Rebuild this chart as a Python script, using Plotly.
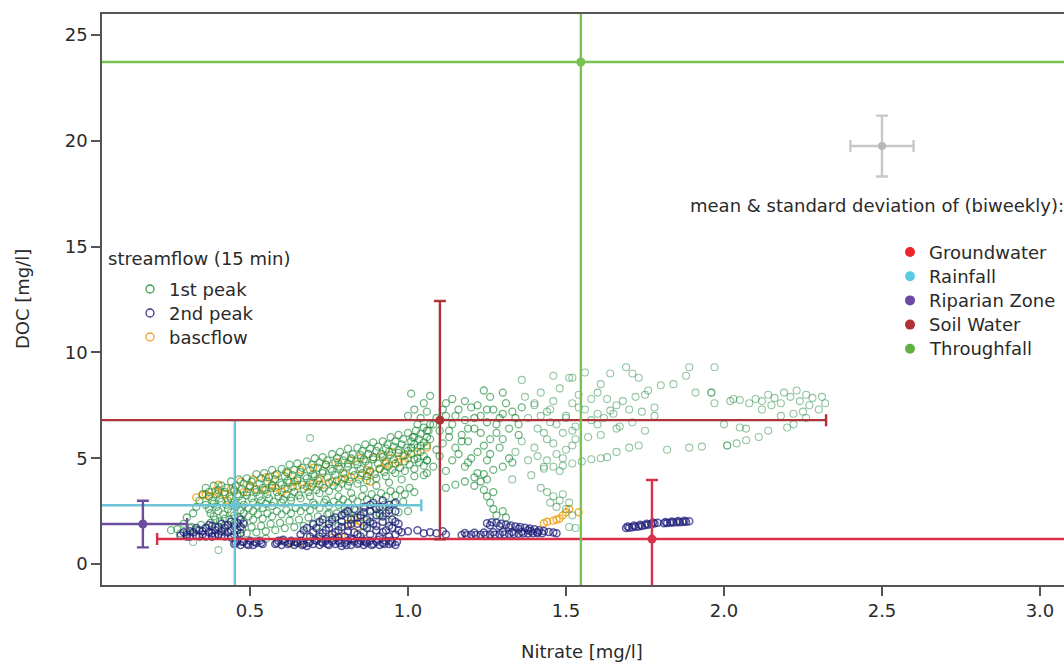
import plotly.graph_objects as go

# ---------------------------------------------------------------------------
# Streamflow samples (15 min): nitrate [mg/l], DOC [mg/l]
# ---------------------------------------------------------------------------
peak1_upper = [
    (0.36, 3.6), (0.385, 3.7), (0.41, 3.7), (0.44, 3.9), (0.465, 4.0), (0.49, 4.05), (0.52, 4.25),
    (0.545, 4.3), (0.57, 4.45), (0.60, 4.5), (0.625, 4.7), (0.65, 4.75), (0.68, 4.85), (0.705, 5.0),
    (0.73, 5.05), (0.76, 5.2), (0.785, 5.3), (0.81, 5.45), (0.84, 5.5), (0.865, 5.65), (0.89, 5.75),
    (0.92, 5.8), (0.945, 6.0), (0.97, 6.1), (1.00, 6.2), (1.025, 6.3), (1.05, 6.45), (1.07, 6.6),
    (0.37, 3.2), (0.395, 3.3), (0.42, 3.4), (0.45, 3.5), (0.475, 3.55), (0.50, 3.7), (0.53, 3.8),
    (0.555, 3.9), (0.58, 4.0), (0.61, 4.15), (0.635, 4.2), (0.66, 4.35), (0.69, 4.45), (0.715, 4.55),
    (0.74, 4.7), (0.77, 4.8), (0.795, 4.9), (0.82, 5.0), (0.85, 5.15), (0.875, 5.2), (0.90, 5.35),
    (0.93, 5.45), (0.955, 5.55), (0.98, 5.65), (1.01, 5.8), (1.035, 5.9), (1.06, 6.0),
    (0.36, 2.8), (0.385, 2.85), (0.41, 2.95), (0.44, 3.1), (0.465, 3.2), (0.49, 3.25), (0.52, 3.4),
    (0.545, 3.5), (0.57, 3.6), (0.60, 3.75), (0.625, 3.85), (0.65, 3.95), (0.68, 4.05), (0.705, 4.15),
    (0.73, 4.3), (0.76, 4.4), (0.785, 4.5), (0.81, 4.6), (0.84, 4.7), (0.865, 4.85), (0.89, 4.95),
    (0.92, 5.05), (0.945, 5.15), (0.97, 5.25), (1.00, 5.35), (1.03, 5.5), (1.06, 5.6),
    (0.375, 2.4), (0.40, 2.5), (0.43, 2.6), (0.455, 2.7), (0.48, 2.8), (0.51, 2.9), (0.535, 3.0),
    (0.56, 3.1), (0.59, 3.2), (0.615, 3.3), (0.64, 3.4), (0.67, 3.55), (0.695, 3.65), (0.72, 3.75),
    (0.75, 3.85), (0.775, 3.95), (0.80, 4.05), (0.83, 4.2), (0.855, 4.3), (0.88, 4.4), (0.91, 4.5),
    (0.935, 4.6), (0.96, 4.75), (0.99, 4.85), (1.02, 4.95), (1.05, 5.1),
    (0.39, 2.1), (0.42, 2.15), (0.45, 2.3), (0.48, 2.4), (0.51, 2.5), (0.54, 2.65), (0.57, 2.75),
    (0.60, 2.9), (0.63, 3.0), (0.66, 3.1), (0.69, 3.2), (0.72, 3.35), (0.75, 3.45), (0.78, 3.6),
    (0.81, 3.7), (0.84, 3.8), (0.87, 3.95), (0.90, 4.05), (0.93, 4.15), (0.96, 4.3), (0.99, 4.4),
    (1.02, 4.5), (1.05, 4.65),
    (0.70, 2.9), (0.74, 3.05), (0.78, 3.2), (0.82, 3.35), (0.86, 3.55), (0.90, 3.7), (0.94, 3.85),
    (0.98, 4.0), (1.02, 4.15), (1.06, 4.3),
    (0.37, 3.4), (0.40, 3.5), (0.425, 3.6), (0.455, 3.7), (0.48, 3.8), (0.505, 3.9), (0.535, 4.05),
    (0.56, 4.1), (0.585, 4.25), (0.615, 4.35), (0.64, 4.45), (0.665, 4.55), (0.695, 4.7), (0.72, 4.8),
    (0.745, 4.9), (0.775, 5.0), (0.80, 5.1), (0.825, 5.2), (0.855, 5.35), (0.88, 5.45), (0.905, 5.55),
    (0.935, 5.65), (0.96, 5.8), (0.985, 5.9), (1.015, 6.0), (1.04, 6.15), (1.065, 6.3),
    (0.38, 3.0), (0.405, 3.1), (0.435, 3.2), (0.46, 3.3), (0.49, 3.4), (0.515, 3.5), (0.54, 3.6),
    (0.57, 3.7), (0.595, 3.85), (0.62, 3.95), (0.65, 4.05), (0.675, 4.15), (0.70, 4.25), (0.73, 4.4),
    (0.755, 4.5), (0.78, 4.6), (0.81, 4.75), (0.835, 4.85), (0.86, 4.95), (0.89, 5.05), (0.915, 5.2),
    (0.94, 5.3), (0.97, 5.4), (0.995, 5.5), (1.02, 5.65), (1.05, 5.75),
    (0.37, 2.6), (0.395, 2.7), (0.425, 2.8), (0.45, 2.9), (0.475, 3.0), (0.505, 3.1), (0.53, 3.2),
    (0.555, 3.3), (0.585, 3.4), (0.61, 3.55), (0.635, 3.65), (0.665, 3.75), (0.69, 3.85), (0.715, 3.95),
    (0.745, 4.1), (0.77, 4.2), (0.795, 4.3), (0.825, 4.4), (0.85, 4.5), (0.875, 4.65), (0.905, 4.75),
    (0.93, 4.85), (0.955, 4.95), (0.985, 5.1), (1.01, 5.2), (1.04, 5.3),
    (0.385, 2.25), (0.415, 2.35), (0.44, 2.45), (0.47, 2.55), (0.495, 2.65), (0.525, 2.75),
    (0.55, 2.85), (0.575, 2.95), (0.605, 3.05), (0.63, 3.15), (0.655, 3.25), (0.685, 3.4),
    (0.71, 3.5), (0.735, 3.6), (0.765, 3.7), (0.79, 3.8), (0.815, 3.9), (0.845, 4.0), (0.87, 4.15),
    (0.895, 4.25), (0.925, 4.35), (0.95, 4.45), (0.975, 4.55), (1.005, 4.7), (1.035, 4.8), (1.06, 4.9),
]

peak1_lower = [
    (0.30, 1.5), (0.33, 1.6), (0.36, 1.7), (0.39, 1.75), (0.42, 1.85), (0.45, 1.95), (0.48, 2.0),
    (0.51, 2.1), (0.54, 2.15), (0.57, 2.25), (0.60, 2.35), (0.63, 2.4), (0.66, 2.5), (0.69, 2.55),
    (0.72, 2.65), (0.75, 2.75), (0.78, 2.8), (0.81, 2.9), (0.84, 2.95), (0.87, 3.05), (0.90, 3.1),
    (0.93, 3.2), (0.96, 3.25), (0.99, 3.3), (1.02, 3.4),
    (0.46, 1.35), (0.49, 1.45), (0.52, 1.5), (0.55, 1.55), (0.58, 1.6), (0.61, 1.7), (0.64, 1.75),
    (0.67, 1.8), (0.70, 1.85), (0.73, 1.95), (0.76, 2.0), (0.79, 2.05), (0.82, 2.15), (0.85, 2.2),
    (0.88, 2.25), (0.91, 2.3), (0.94, 2.4), (0.97, 2.45), (1.00, 2.5),
    (0.315, 1.75), (0.345, 1.85), (0.375, 1.95), (0.405, 2.0), (0.435, 2.1), (0.465, 2.2),
    (0.495, 2.25), (0.525, 2.35), (0.555, 2.4), (0.585, 2.5), (0.615, 2.55), (0.645, 2.65),
    (0.675, 2.7), (0.705, 2.8), (0.735, 2.9), (0.765, 2.95), (0.795, 3.05), (0.825, 3.1),
    (0.855, 3.2), (0.885, 3.3), (0.915, 3.35), (0.945, 3.45), (0.975, 3.5), (1.005, 3.6),
    (0.475, 1.65), (0.505, 1.75), (0.535, 1.8), (0.565, 1.9), (0.595, 1.95), (0.625, 2.05),
    (0.655, 2.1), (0.685, 2.2), (0.715, 2.25), (0.745, 2.35), (0.775, 2.4), (0.805, 2.5),
    (0.835, 2.55), (0.865, 2.65), (0.895, 2.7), (0.925, 2.8), (0.955, 2.85), (0.985, 2.95),
    (0.25, 1.6), (0.27, 1.65), (0.29, 1.9), (0.30, 2.2), (0.32, 2.4), (0.33, 2.7), (0.34, 3.0),
    (0.35, 3.3), (0.28, 1.45), (0.31, 1.7),
    (0.60, 1.1), (0.64, 1.05), (0.72, 1.5), (0.78, 1.8), (0.83, 2.2), (0.87, 1.9), (0.91, 2.4),
    (0.94, 2.0), (0.86, 1.5), (0.55, 1.2), (0.42, 1.5), (0.38, 1.3), (0.68, 1.3), (0.75, 2.4),
    (0.80, 2.6),
]

peak1_middle = [
    (1.00, 7.0), (1.02, 7.3), (1.04, 6.9), (1.06, 7.2), (1.08, 6.6), (1.03, 6.6), (1.07, 5.9),
    (1.10, 6.3), (1.12, 7.0), (1.14, 6.6), (1.16, 7.3), (1.18, 6.8), (1.11, 5.7), (1.13, 6.0),
    (1.15, 5.5), (1.17, 6.1), (1.19, 5.8), (1.21, 6.4), (1.23, 7.0), (1.25, 6.7), (1.22, 7.5),
    (1.27, 7.3), (1.29, 6.9), (1.31, 7.6), (1.33, 7.2), (1.35, 6.6), (1.28, 6.2), (1.30, 5.9),
    (1.24, 5.6), (1.26, 5.2), (1.20, 5.0), (1.18, 4.6), (1.14, 4.9), (1.10, 5.1), (1.08, 4.6),
    (1.05, 4.2), (1.03, 5.0), (1.01, 5.5), (1.01, 8.05), (1.07, 7.95), (1.12, 7.6), (1.20, 7.4),
    (1.02, 6.0), (1.04, 5.6), (1.06, 6.3), (1.09, 6.9), (1.11, 7.3), (1.13, 6.3), (1.15, 7.0),
    (1.17, 5.8), (1.19, 6.4), (1.21, 6.9), (1.23, 6.2), (1.25, 7.3), (1.26, 5.9), (1.28, 6.6),
    (1.30, 7.1), (1.32, 6.4), (1.34, 6.9), (1.36, 7.4), (1.09, 5.4), (1.12, 4.4), (1.16, 5.2),
    (1.19, 4.8), (1.22, 5.3), (1.25, 4.9), (1.29, 5.5), (1.32, 5.0), (1.35, 6.1), (1.06, 4.9),
    (1.14, 7.8), (1.18, 7.7), (1.26, 7.9), (1.30, 8.1), (1.24, 8.2), (1.05, 7.6),
    (1.12, 3.6), (1.15, 3.75), (1.18, 3.9), (1.21, 4.1), (1.24, 4.25), (1.27, 4.45), (1.30, 4.6),
    (1.33, 4.8),
    (1.22, 4.3), (1.23, 3.9), (1.24, 3.5), (1.25, 3.2), (1.26, 2.9), (1.27, 2.6), (1.28, 2.3),
    (1.30, 2.5), (1.31, 2.2), (1.21, 3.7), (1.25, 4.0), (1.27, 3.4),
]

peak1_sparse = [
    (1.37, 7.9), (1.40, 7.5), (1.42, 8.1), (1.44, 7.2), (1.46, 7.7), (1.48, 8.3), (1.50, 7.0),
    (1.52, 7.6), (1.54, 8.0), (1.56, 7.3), (1.58, 7.8), (1.36, 8.7), (1.46, 8.9), (1.51, 8.8),
    (1.56, 9.05), (1.38, 6.9), (1.41, 6.4), (1.45, 6.7), (1.49, 6.2), (1.53, 6.5), (1.57, 6.0),
    (1.60, 6.6), (1.36, 5.8), (1.40, 5.5), (1.44, 5.9), (1.47, 5.2), (1.52, 5.6), (1.34, 5.3),
    (1.38, 4.9), (1.43, 4.6), (1.48, 4.4), (1.39, 4.2), (1.33, 4.0),
    (1.40, 7.6), (1.42, 7.0), (1.45, 7.3), (1.47, 6.6), (1.50, 6.9), (1.52, 6.3), (1.54, 7.4),
    (1.43, 6.2), (1.46, 5.7), (1.50, 5.4), (1.53, 5.9), (1.41, 5.1), (1.44, 4.9), (1.49, 5.0),
    (1.44, 3.4), (1.46, 3.2), (1.48, 3.0), (1.49, 3.3), (1.45, 2.9), (1.47, 2.7), (1.50, 2.6),
    (1.42, 3.6), (1.51, 2.9), (1.52, 2.3), (1.51, 1.75), (1.53, 1.7),
    (1.43, 4.5), (1.46, 4.6), (1.49, 4.65), (1.52, 4.75), (1.55, 4.85), (1.58, 4.95), (1.61, 5.0),
    (1.63, 5.05), (1.66, 5.3), (1.70, 5.5), (1.73, 5.6), (1.82, 5.4), (1.89, 5.5), (1.93, 5.55),
    (2.01, 5.6), (2.04, 5.7), (2.07, 5.85), (2.11, 6.0), (2.14, 6.3), (2.20, 6.45), (2.22, 6.6),
    (2.26, 6.9),
    (1.52, 8.8), (1.64, 9.0), (1.69, 9.3), (1.71, 9.0), (1.73, 8.8), (1.76, 8.2), (1.80, 8.45),
    (1.84, 8.5), (1.88, 8.9), (1.89, 9.3), (1.91, 8.1), (1.96, 8.1), (1.97, 9.3), (1.97, 7.6),
    (1.60, 8.1), (1.61, 8.5), (1.63, 7.8), (1.66, 7.5), (1.68, 7.7), (1.70, 7.3), (1.72, 7.9),
    (1.74, 7.2), (1.78, 7.4), (1.75, 8.0), (1.65, 7.1), (1.62, 6.9), (1.58, 6.8), (1.67, 6.5),
    (1.71, 6.7), (1.60, 7.1), (1.64, 7.25), (1.66, 6.4), (1.75, 6.3), (1.61, 6.1), (1.78, 7.0),
    (2.02, 7.7), (2.05, 7.75), (2.08, 7.6), (2.10, 7.8), (2.12, 7.7), (2.14, 8.0), (2.16, 7.85),
    (2.18, 7.6), (2.19, 8.1), (2.21, 7.9), (2.23, 8.2), (2.24, 7.7), (2.26, 8.0), (2.27, 7.5),
    (2.28, 7.85), (2.30, 7.3), (2.32, 7.6), (2.22, 7.1), (2.25, 7.2), (2.15, 7.5), (2.12, 7.3),
    (2.00, 6.6), (2.07, 6.4), (2.18, 7.0), (2.31, 7.9), (1.96, 8.1), (2.03, 7.8), (2.05, 6.45),
    (2.01, 5.6), (0.32, 1.04), (0.40, 0.66), (0.69, 5.95),
]

peak2_low = [
    (0.45, 0.95), (0.46, 1.1), (0.47, 0.9), (0.48, 1.05), (0.49, 0.95), (0.50, 1.1), (0.51, 0.9),
    (0.52, 1.0), (0.53, 1.1), (0.54, 0.95),
    (0.58, 0.95), (0.59, 1.1), (0.60, 0.9), (0.61, 1.05), (0.62, 0.95), (0.63, 1.1), (0.64, 0.9),
    (0.65, 1.0), (0.66, 1.1), (0.67, 0.95), (0.68, 0.85), (0.69, 1.05), (0.70, 0.95), (0.71, 1.1),
    (0.72, 0.9), (0.73, 1.0), (0.74, 1.1), (0.75, 0.9), (0.76, 1.05), (0.77, 0.95), (0.78, 1.1),
    (0.79, 0.85), (0.80, 1.0), (0.81, 1.1), (0.82, 0.9), (0.83, 1.05), (0.84, 0.95), (0.85, 1.1),
    (0.86, 0.9), (0.87, 1.0), (0.88, 1.1), (0.89, 0.95), (0.90, 1.05), (0.91, 0.9), (0.92, 1.0),
    (0.93, 1.1), (0.94, 0.95), (0.95, 1.0), (0.96, 0.9),
    (0.455, 1.0), (0.475, 1.05), (0.495, 0.9), (0.515, 1.05), (0.535, 1.0), (0.585, 1.0),
    (0.605, 1.15), (0.625, 1.0), (0.645, 1.05), (0.665, 0.9), (0.685, 1.0), (0.705, 1.15),
    (0.725, 1.05), (0.745, 0.95), (0.765, 1.15), (0.785, 1.0), (0.805, 0.9), (0.825, 1.15),
    (0.845, 1.0), (0.865, 1.05), (0.885, 0.9), (0.905, 1.15), (0.925, 0.95), (0.945, 1.1),
    (0.965, 1.05),
    (0.28, 1.35), (0.30, 1.4), (0.31, 1.3), (0.32, 1.5), (0.33, 1.35), (0.34, 1.6), (0.35, 1.4),
    (0.36, 1.7), (0.37, 1.5), (0.38, 1.8), (0.39, 1.6), (0.40, 1.4), (0.41, 1.9), (0.42, 1.7),
    (0.43, 1.5), (0.44, 2.0), (0.45, 1.8), (0.46, 1.6), (0.47, 2.1), (0.48, 1.9), (0.36, 1.3),
    (0.39, 1.35), (0.42, 1.3), (0.45, 1.4), (0.44, 1.25), (0.47, 1.45),
    (0.29, 1.5), (0.31, 1.55), (0.33, 1.7), (0.35, 1.55), (0.37, 1.85), (0.38, 1.45), (0.40, 1.75),
    (0.41, 1.55), (0.43, 1.85), (0.44, 1.6), (0.46, 1.95), (0.47, 1.75), (0.30, 1.3), (0.34, 1.3),
    (0.38, 1.3), (0.41, 1.35),
]

peak2_mid = [
    (0.66, 1.4), (0.68, 1.7), (0.70, 1.5), (0.70, 1.9), (0.72, 1.3), (0.73, 2.1), (0.74, 1.6),
    (0.75, 1.9), (0.76, 1.4), (0.77, 2.2), (0.78, 1.6), (0.79, 2.0), (0.80, 1.3), (0.80, 2.4),
    (0.81, 1.8), (0.82, 2.1), (0.83, 1.5), (0.83, 2.6), (0.84, 1.9), (0.85, 2.3), (0.85, 1.3),
    (0.86, 2.7), (0.87, 1.7), (0.87, 2.1), (0.88, 2.5), (0.88, 1.4), (0.89, 2.9), (0.89, 1.9),
    (0.90, 2.3), (0.90, 1.6), (0.91, 2.7), (0.91, 1.3), (0.92, 2.0), (0.92, 3.0), (0.93, 1.6),
    (0.93, 2.4), (0.94, 2.8), (0.94, 1.3), (0.95, 2.1), (0.95, 1.7), (0.96, 2.5), (0.96, 1.4),
    (0.97, 1.9), (0.82, 1.2), (0.86, 1.1), (0.78, 1.25), (0.74, 1.2),
    (0.67, 1.6), (0.69, 1.3), (0.71, 1.7), (0.72, 2.0), (0.73, 1.45), (0.75, 1.7), (0.76, 2.1),
    (0.77, 1.5), (0.79, 1.75), (0.79, 2.3), (0.81, 1.55), (0.81, 2.5), (0.82, 1.9), (0.84, 2.2),
    (0.84, 1.4), (0.86, 1.8), (0.86, 2.45), (0.88, 2.0), (0.88, 2.8), (0.90, 1.8), (0.90, 2.6),
    (0.92, 1.5), (0.92, 2.25), (0.94, 1.8), (0.94, 2.55), (0.96, 2.0), (0.96, 2.9), (0.97, 1.6),
    (0.98, 1.5), (1.00, 1.55), (1.03, 1.6), (1.05, 1.45), (1.07, 1.5), (1.09, 1.45), (1.11, 1.55),
    (1.12, 1.4),
]

peak2_tail = [
    (1.17, 1.37), (1.185, 1.36), (1.20, 1.38), (1.215, 1.37), (1.23, 1.39), (1.245, 1.38),
    (1.26, 1.40), (1.275, 1.39), (1.29, 1.41), (1.305, 1.40), (1.32, 1.42), (1.335, 1.42),
    (1.35, 1.43), (1.365, 1.44), (1.38, 1.44), (1.395, 1.45), (1.41, 1.46), (1.425, 1.46),
    (1.18, 1.47), (1.21, 1.48), (1.24, 1.49), (1.27, 1.5), (1.30, 1.51), (1.33, 1.52),
    (1.36, 1.53), (1.39, 1.55),
    (1.25, 1.93), (1.265, 1.97), (1.28, 1.95), (1.295, 1.9), (1.31, 1.86), (1.325, 1.82),
    (1.34, 1.78), (1.355, 1.75), (1.37, 1.71), (1.385, 1.68), (1.40, 1.64), (1.415, 1.6),
    (1.43, 1.56), (1.445, 1.52), (1.46, 1.49), (1.47, 1.46),
    (1.26, 1.83), (1.29, 1.8), (1.32, 1.74), (1.35, 1.67), (1.38, 1.6), (1.41, 1.52),
    (1.69, 1.70), (1.70, 1.72), (1.71, 1.74), (1.72, 1.76), (1.73, 1.78), (1.74, 1.80),
    (1.75, 1.83), (1.76, 1.86), (1.77, 1.89), (1.78, 1.92), (1.79, 1.95), (1.81, 1.93),
    (1.82, 1.94), (1.83, 1.95), (1.84, 1.96), (1.85, 1.97), (1.86, 1.98), (1.87, 1.99),
    (1.88, 2.0), (1.89, 2.02),
    (1.695, 1.78), (1.715, 1.82), (1.735, 1.86), (1.755, 1.9), (1.775, 1.96), (1.815, 1.99),
    (1.835, 2.01), (1.855, 2.03), (1.875, 2.05),
]

baseflow_pts = [
    (0.33, 3.15), (0.35, 3.25), (0.37, 3.2), (0.40, 3.35), (0.42, 3.3), (0.45, 3.45), (0.48, 3.4),
    (0.52, 3.55), (0.55, 3.5), (0.58, 3.6), (0.62, 3.55), (0.65, 3.7), (0.68, 3.65), (0.70, 3.8),
    (0.73, 3.75), (0.76, 3.9), (0.79, 4.0), (0.82, 4.1), (0.85, 4.2), (0.88, 4.35), (0.91, 4.5),
    (0.94, 4.65), (0.97, 4.8), (1.00, 5.0), (1.03, 5.3), (1.06, 5.5),
    (0.40, 3.75), (0.47, 3.9), (0.55, 4.1), (0.62, 4.3), (0.70, 4.55), (0.78, 4.8), (0.85, 5.0),
    (0.92, 5.1), (0.97, 4.95), (0.43, 3.0), (0.60, 3.4), (0.88, 3.9),
    (0.36, 3.3), (0.39, 3.45), (0.44, 3.55), (0.50, 3.65), (0.57, 3.75), (0.64, 3.9), (0.72, 4.05),
    (0.80, 4.25), (0.87, 4.45), (0.93, 4.75), (0.99, 5.15), (0.51, 4.0), (0.58, 4.2), (0.66, 4.45),
    (0.74, 4.7), (0.82, 4.9), (0.89, 5.05), (0.95, 5.3),
    (0.83, 2.1), (0.85, 2.0), (0.81, 1.9), (0.79, 1.3), (0.76, 1.25), (0.63, 1.0), (0.66, 1.05),
    (0.84, 1.75),
    (1.43, 1.93), (1.44, 2.0), (1.46, 2.05), (1.47, 2.1), (1.48, 2.15), (1.49, 2.3), (1.50, 2.45),
    (1.51, 2.6), (1.54, 2.45),
]

# ---------------------------------------------------------------------------
# Biweekly source samples: mean and standard deviation
# ---------------------------------------------------------------------------
sources = ["Groundwater", "Rainfall", "Riparian Zone", "Soil Water", "Throughfall"]
mean_nitrate = [1.772, 0.452, 0.161, 1.101, 1.547]
sd_nitrate = [1.566, 0.59, 0.14, 1.222, 1.6]
mean_doc = [1.18, 2.78, 1.89, 6.80, 23.72]
sd_doc = [2.79, 4.02, 1.10, 5.63, 25.0]
source_line_colors = ["#d9304a", "#6cc3d5", "#6b4c9e", "#ad3338", "#79c24f"]
source_dot_colors = ["#e8262c", "#5ccbe0", "#6b4aa5", "#b03035", "#5fb040"]

# key symbol explaining mean +/- sd
key_x, key_y, key_sdx, key_sdy = 2.5, 19.75, 0.1, 1.44

FONT = "DejaVu Sans"
TXT = "#2a2a2a"
AX = "#555555"

# plot area in page pixels
L, T, R, B = 102, 14, 1064, 585


def px(x):
    return (x - L) / (R - L)


def py(y):
    return (B - y) / (B - T)


def split(pts):
    return [p[0] for p in pts], [p[1] for p in pts]


fig = go.Figure()

# drawing order: baseflow, 1st peak (dense then sparse part), 2nd peak
series = [
    (baseflow_pts, "rgba(240,160,20,0.85)", 1.4),
    (peak1_upper + peak1_lower + peak1_middle, "rgba(20,135,50,0.62)", 1.3),
    (peak1_sparse, "rgba(40,140,70,0.5)", 1.1),
    (peak2_low + peak2_mid + peak2_tail, "rgba(28,28,120,0.72)", 1.5),
]
for pts, col, lw in series:
    xs, ys = split(pts)
    fig.add_trace(go.Scatter(
        x=xs, y=ys, mode="markers", showlegend=False, hoverinfo="skip",
        marker=dict(symbol="circle-open", size=7, color=col, line=dict(width=lw)),
    ))

# mean +/- sd crosses for each source
for i, name in enumerate(sources):
    fig.add_trace(go.Scatter(
        x=[mean_nitrate[i]], y=[mean_doc[i]], mode="markers", showlegend=False, name=name,
        marker=dict(size=9, color=source_line_colors[i]),
        error_x=dict(type="data", array=[sd_nitrate[i]], color=source_line_colors[i],
                     thickness=2.4, width=6),
        error_y=dict(type="data", array=[sd_doc[i]], color=source_line_colors[i],
                     thickness=2.4, width=6),
    ))

fig.add_trace(go.Scatter(
    x=[key_x], y=[key_y], mode="markers", showlegend=False,
    marker=dict(size=8, color="#b8b8b8"),
    error_x=dict(type="data", array=[key_sdx], color="#c8c8c8", thickness=2.4, width=6),
    error_y=dict(type="data", array=[key_sdy], color="#c8c8c8", thickness=2.4, width=6),
))

shapes = []
annotations = []

# streamflow legend
annotations.append(dict(x=px(106), y=py(258), xref="paper", yref="paper", text="streamflow (15 min)",
                        showarrow=False, xanchor="left", yanchor="middle",
                        font=dict(family=FONT, size=18, color=TXT)))
for label, col, yy in [("1st peak", "#2f9e48", 289), ("2nd peak", "#3a3a88", 313),
                       ("bascflow", "#f0a030", 337)]:
    shapes.append(dict(type="circle", xref="paper", yref="paper", xsizemode="pixel",
                       ysizemode="pixel", xanchor=px(150), yanchor=py(yy),
                       x0=-4, x1=4, y0=-4, y1=4, line=dict(color=col, width=1.3)))
    annotations.append(dict(x=px(167), y=py(yy), xref="paper", yref="paper", text=label,
                            showarrow=False, xanchor="left", yanchor="middle",
                            font=dict(family=FONT, size=18, color=TXT)))

# source legend
annotations.append(dict(x=px(877), y=py(205), xref="paper", yref="paper",
                        text="mean & standard deviation of (biweekly):",
                        showarrow=False, xanchor="center", yanchor="middle",
                        font=dict(family=FONT, size=18, color=TXT)))
for i, name in enumerate(sources):
    yy = 252 + i * 24.2
    shapes.append(dict(type="circle", xref="paper", yref="paper", xsizemode="pixel",
                       ysizemode="pixel", xanchor=px(910), yanchor=py(yy),
                       x0=-5, x1=5, y0=-5, y1=5, fillcolor=source_dot_colors[i],
                       line=dict(width=0)))
    annotations.append(dict(x=px(927), y=py(yy), xref="paper", yref="paper", text=name,
                            showarrow=False, xanchor="left", yanchor="middle",
                            font=dict(family=FONT, size=18, color=TXT)))

# axis titles
annotations.append(dict(x=px(582), y=py(651), xref="paper", yref="paper", text="Nitrate [mg/l]",
                        showarrow=False, xanchor="center", yanchor="middle",
                        font=dict(family=FONT, size=18, color=TXT)))
annotations.append(dict(x=px(22), y=py(299), xref="paper", yref="paper", text="DOC [mg/l]",
                        showarrow=False, xanchor="center", yanchor="middle", textangle=-90,
                        font=dict(family=FONT, size=18, color=TXT)))

fig.update_layout(
    width=1064, height=663,
    margin=dict(l=L, r=0, t=T, b=663 - B, pad=0),
    paper_bgcolor="white", plot_bgcolor="white",
    showlegend=False,
    shapes=shapes, annotations=annotations,
    font=dict(family=FONT, size=18, color=TXT),
)
fig.update_xaxes(
    range=[0.0316, 3.076], tickvals=[0.5, 1.0, 1.5, 2.0, 2.5, 3.0], tickformat=".1f",
    showgrid=False, zeroline=False, showline=True, linecolor=AX, linewidth=1.5, mirror=True,
    ticks="outside", ticklen=9, tickwidth=1.5, tickcolor=AX,
    tickfont=dict(family=FONT, size=18, color=TXT),
)
fig.update_yaxes(
    range=[-0.99, 25.99], tickvals=[0, 5, 10, 15, 20, 25],
    showgrid=False, zeroline=False, showline=True, linecolor=AX, linewidth=1.5, mirror=False,
    ticks="outside", ticklen=9, tickwidth=1.5, tickcolor=AX,
    tickfont=dict(family=FONT, size=18, color=TXT),
)

fig.write_html("out.html")
